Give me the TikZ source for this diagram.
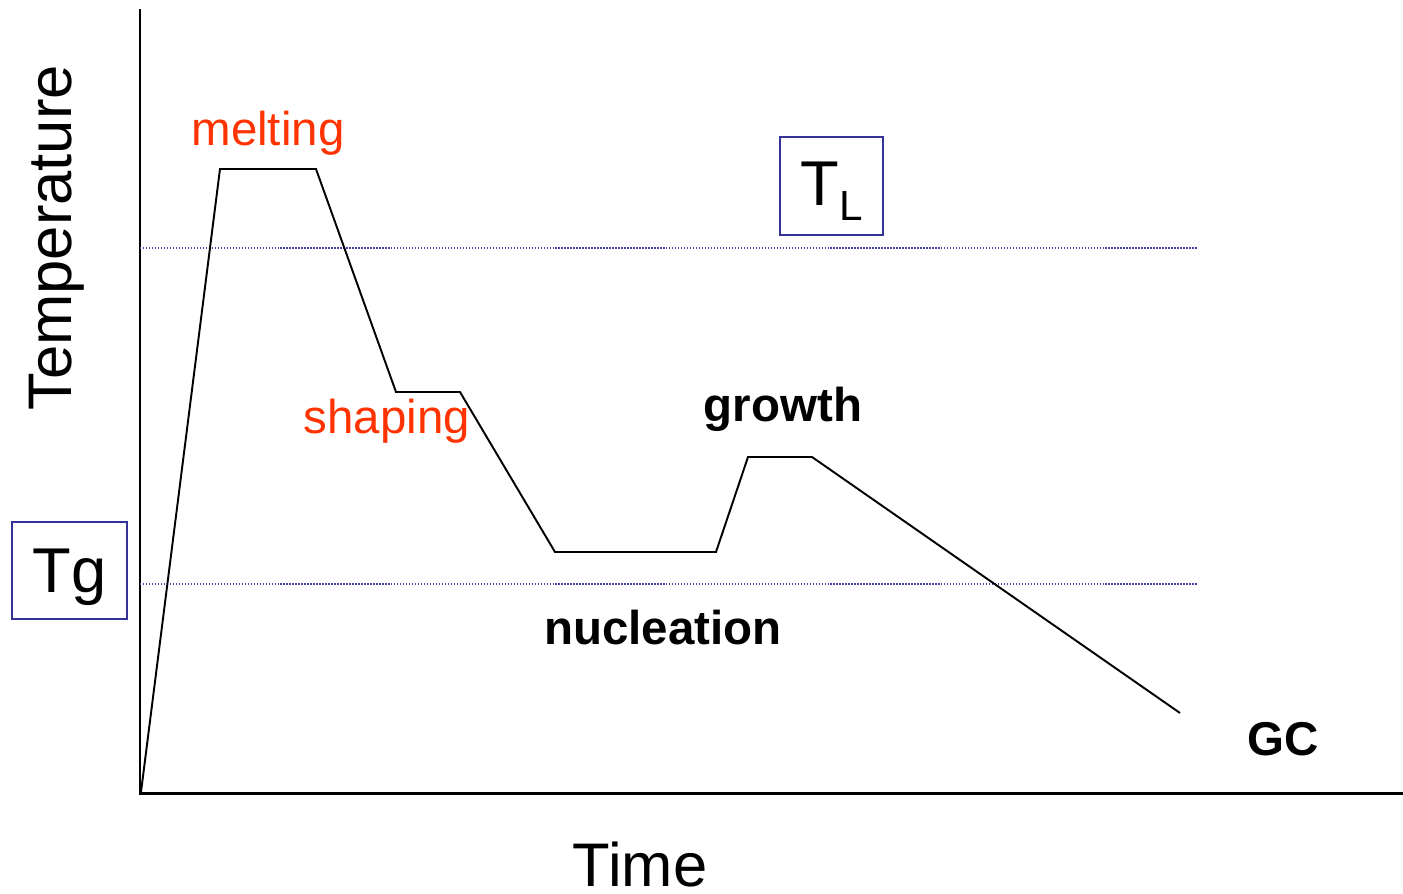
\documentclass[tikz,border=0pt]{standalone}
\usepackage{fontspec}
\setmainfont{Liberation Sans}
\usepackage{tikz}
\usetikzlibrary{positioning}
\definecolor{phasered}{HTML}{FF3300}
\definecolor{levelblue}{HTML}{4444A8}
\definecolor{boxblue}{HTML}{333399}
\tikzset{
  axisline/.style={line width=0.85pt},
  profile/.style={line width=0.55pt},
  levelline/.style={levelblue, line width=0.45pt, dash pattern=on 0.4pt off 0.45pt},
  tempbox/.style={draw=boxblue, line width=0.6pt, inner sep=0pt},
  tempsym/.style={font=\fontsize{18}{20}\selectfont},
  redlabel/.style={phasered, font=\fontsize{13.5}{16}\selectfont},
  steplabel/.style={font=\fontsize{13.5}{16}\selectfont\bfseries},
  axislabel/.style={font=\fontsize{17.5}{20}\selectfont}
}
\begin{document}
\begin{tikzpicture}[x=0.01cm, y=-0.01cm]
  \useasboundingbox (0,0) rectangle (1403,894);

  % Axes
  \coordinate (o) at (140,793);
  \coordinate (ytop) at (140,9);
  \coordinate (xend) at (1403,793);
  \draw[axisline] (ytop) -- (o) -- (xend);

  % Levels Tg and T_L
  \coordinate (l1) at (140,248);
  \coordinate (l2) at (1197,248);
  \coordinate (g1) at (140,584);
  \coordinate (g2) at (1197,584);
  \draw[levelline] (l1) -- (l2);
  \draw[levelline] (g1) -- (g2);

  % Heat treatment profile
  \coordinate (p0) at (141,792);
  \coordinate (p1) at (220,169);
  \coordinate (p2) at (316,169);
  \coordinate (p3) at (396,392);
  \coordinate (p4) at (460,392);
  \coordinate (p5) at (555,552);
  \coordinate (p6) at (716,552);
  \coordinate (p7) at (748,457);
  \coordinate (p8) at (812,457);
  \coordinate (p9) at (1180,713);
  \draw[profile] (p0) -- (p1) -- (p2) -- (p3) -- (p4) -- (p5) -- (p6) -- (p7) -- (p8) -- (p9);

  % Boxes
  \node[tempbox, minimum width=1.03cm, minimum height=0.98cm] (tlframe) at (831.5,186) {};
  \node[tempsym] (tltext) at (831.5,191) {T\raisebox{-0.45ex}{\fontsize{12}{14}\selectfont L}};
  \node[tempbox, minimum width=1.15cm, minimum height=0.97cm] (tgframe) at (69.5,570.5) {};
  \node[tempsym] (tgtext) at (69.5,577) {Tg};

  % Labels
  \node[redlabel] (melt) at (268,133) {melting};
  \node[redlabel] (shape) at (387,421) {shaping};
  \node[steplabel] (grow) at (783,409) {growth};
  \node[steplabel] (nucl) at (663,628) {nucleation};
  \node[steplabel] (gc) at (1283,739) {GC};
  \node[axislabel, rotate=90] (temp) at (57,238) {Temperature};
  \node[axislabel] (time) at (640,864) {Time};
\end{tikzpicture}
\end{document}
